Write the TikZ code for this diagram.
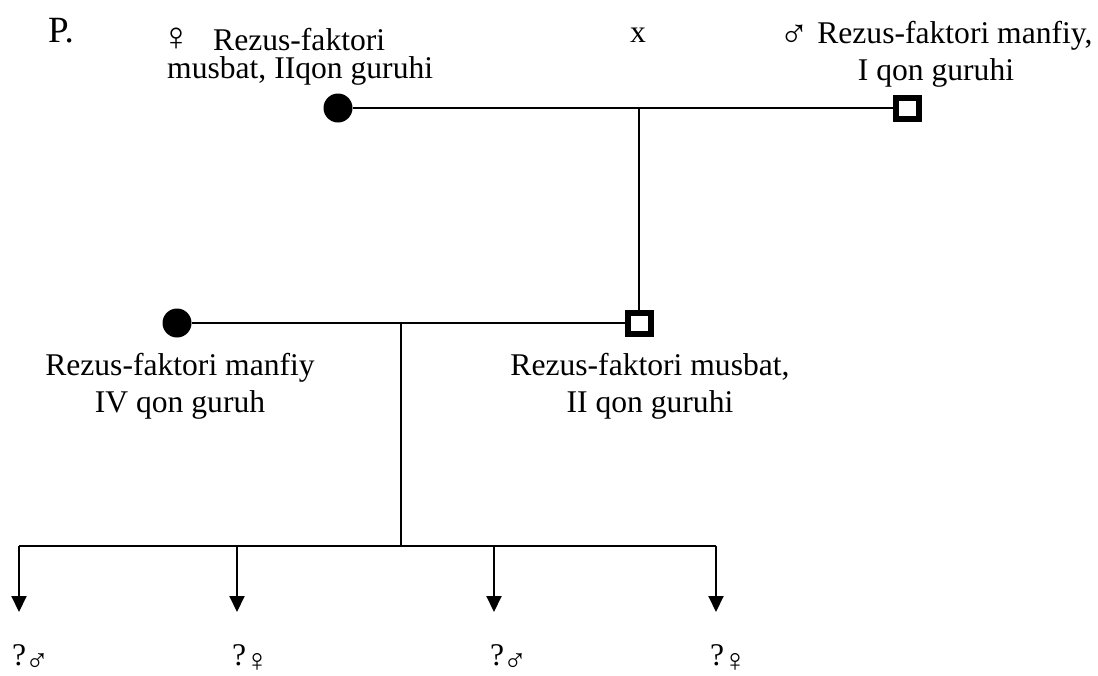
\documentclass[tikz,border=0pt]{standalone}
\usepackage{fontspec}
\setmainfont{Liberation Serif}
\usetikzlibrary{arrows.meta}

% gender signs, set beside the text
\newcommand{\gsign}[1]{{\fontsize{40}{40}\selectfont #1}}
\newcommand{\kidsign}[1]{\hspace{-1pt}\raisebox{-6pt}{{\fontsize{32}{32}\selectfont #1}}}

\begin{document}
\begin{tikzpicture}[
x=1pt, y=-1pt,
female/.style={circle, fill=black, inner sep=0pt, minimum size=29pt},
male/.style={rectangle, draw=black, line width=6pt, fill=white, inner sep=0pt, minimum width=23pt, minimum height=21pt},
line/.style={line width=2pt, black},
arrow/.style={-{Triangle[width=15pt,length=16pt]}, line width=2pt, black},
label/.style={font=\fontsize{31.6}{37}\selectfont, inner sep=0pt, align=center, anchor=base}
]
\useasboundingbox (0,0) rectangle (1098,675);

% parents (base anchors sit on the last line)
\node[female] (mother) at (338,108) {};
\node[male] (father) at (907,108) {};
\node[label, anchor=base west, font=\fontsize{37}{37}\selectfont] (gen) at (48,42) {P.};
\node[label] (cross) at (638,42) {x};
\node[label, align=left, anchor=base west, font=\fontsize{31.6}{28}\selectfont] (mothertext) at (167,78)
  {\hspace{-6pt}\gsign{♀}\hspace{22pt}Rezus-faktori\\musbat, IIqon guruhi};
\node[label] (fathertext) at (936,80) {\raisebox{-4pt}{\gsign{♂}} Rezus-faktori manfiy,\\I qon guruhi};
\draw[line] (mother) -- (father);

% the son and his wife
\node[female] (wife) at (177,323) {};
\node[male] (son) at (639,323) {};
\node[label] (wifetext) at (180,412) {Rezus-faktori manfiy\\IV qon guruh};
\node[label] (sontext) at (650,412) {Rezus-faktori musbat,\\II qon guruhi};
\draw[line] (son.north) -- (son.north |- mother);
\draw[line] (wife) -- (son);

% children
\coordinate (mid) at (401,323);
\coordinate (fork) at (401,546);
\coordinate (top1) at (19,546);
\coordinate (top2) at (237,546);
\coordinate (top3) at (494,546);
\coordinate (top4) at (716,546);
\coordinate (tip1) at (19,612);
\coordinate (tip2) at (237,612);
\coordinate (tip3) at (494,612);
\coordinate (tip4) at (716,612);
\draw[line] (mid) -- (fork);
\draw[line] (top1) -- (top4);
\draw[arrow] (top1) -- (tip1);
\draw[arrow] (top2) -- (tip2);
\draw[arrow] (top3) -- (tip3);
\draw[arrow] (top4) -- (tip4);

\node[label, anchor=base west] (kid1) at (12,665) {?\kidsign{♂}};
\node[label, anchor=base west] (kid2) at (232,665) {?\kidsign{♀}};
\node[label, anchor=base west] (kid3) at (490,665) {?\kidsign{♂}};
\node[label, anchor=base west] (kid4) at (710,665) {?\kidsign{♀}};
\end{tikzpicture}
\end{document}
